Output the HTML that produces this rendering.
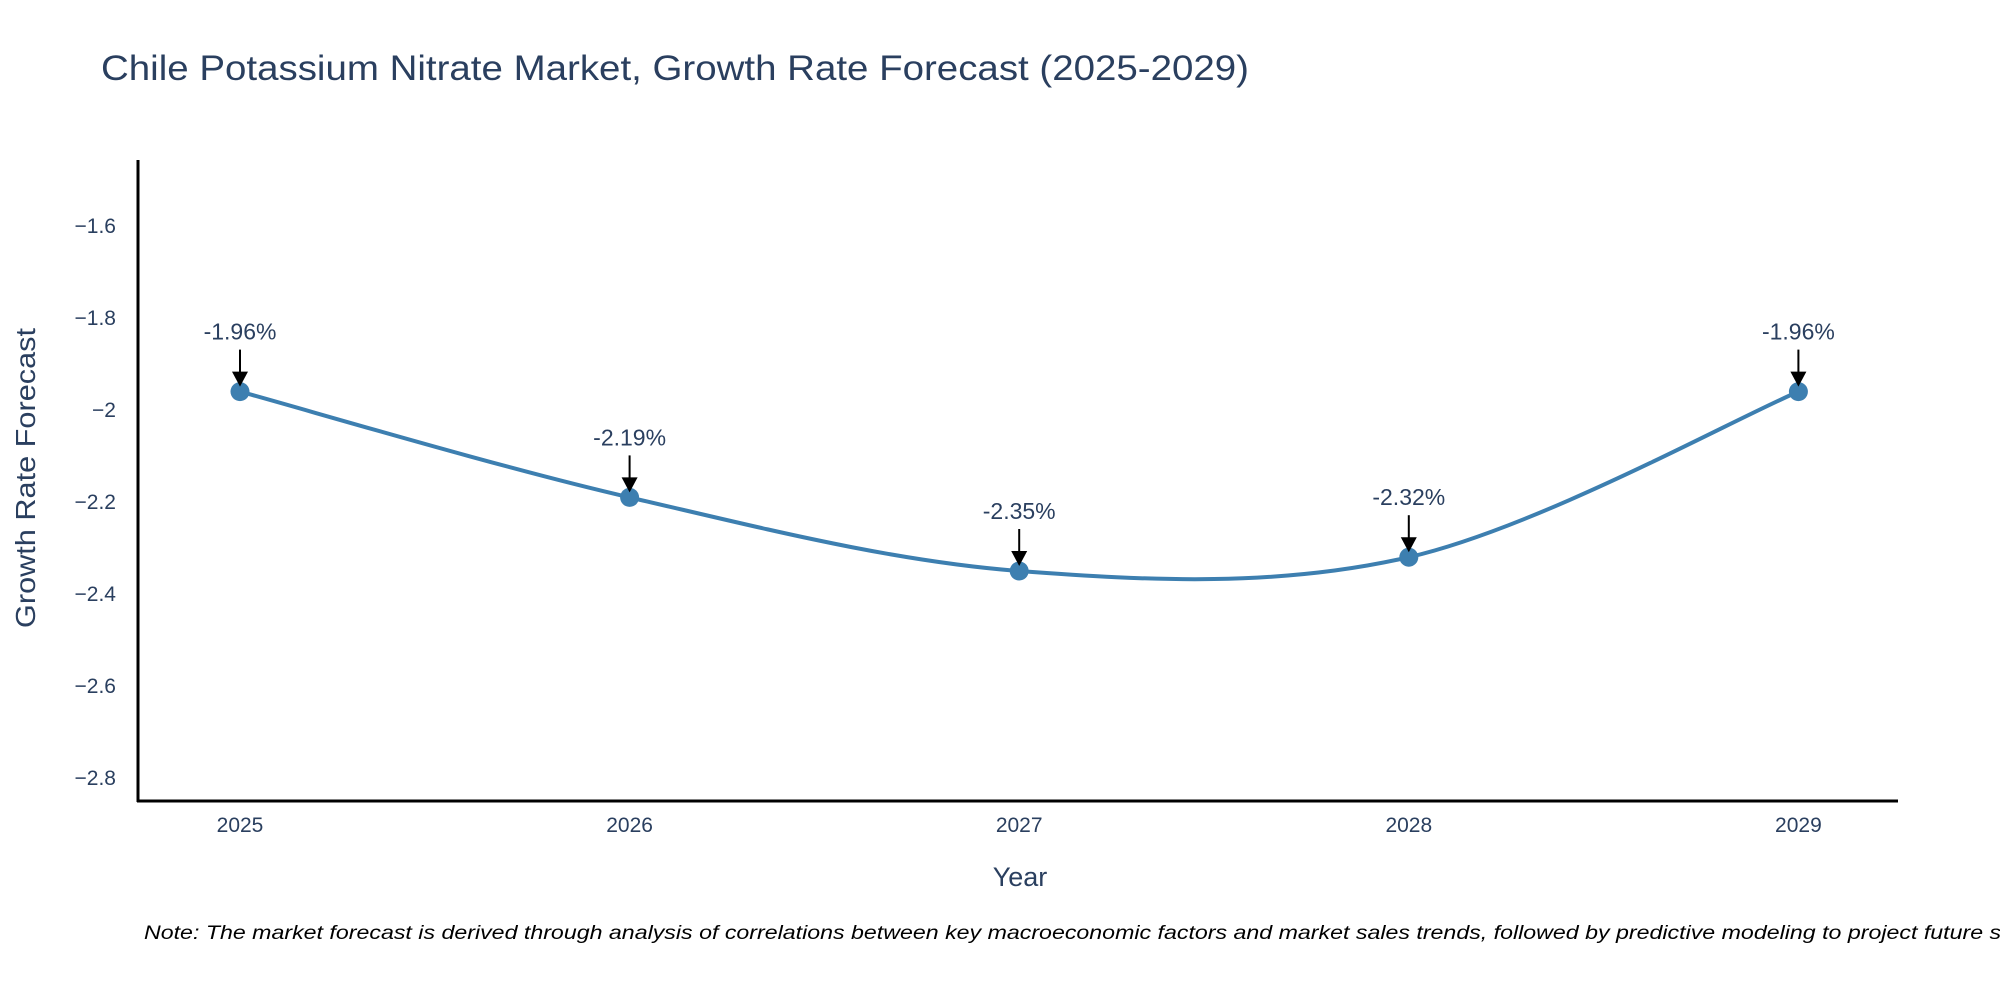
<!DOCTYPE html>
<html><head><meta charset="utf-8"><style>
html,body{margin:0;padding:0;background:#fff;}
svg{display:block;font-family:"Liberation Sans","DejaVu Sans",sans-serif;}
</style></head><body>
<svg id="chart" width="2000" height="1000" viewBox="0 0 2000 1000">
<text x="101" y="80" font-size="35" fill="#2a3f5f" textLength="1148" lengthAdjust="spacingAndGlyphs">Chile Potassium Nitrate Market, Growth Rate Forecast (2025-2029)</text>
<g id="yticks"></g>
<g id="xticks"></g>
<line x1="138" y1="160" x2="138" y2="802" stroke="#000" stroke-width="3"/>
<line x1="137" y1="801" x2="1898" y2="801" stroke="#000" stroke-width="3"/>
<text transform="translate(35,478) rotate(-90)" text-anchor="middle" font-size="28" fill="#2a3f5f" textLength="300" lengthAdjust="spacingAndGlyphs">Growth Rate Forecast</text>
<text x="1020" y="886" text-anchor="middle" font-size="27" fill="#2a3f5f">Year</text>
<g id="series"></g>
<g id="annots"></g>
<text x="144" y="939" font-size="19" font-style="italic" fill="#000" textLength="1870" lengthAdjust="spacingAndGlyphs">Note: The market forecast is derived through analysis of correlations between key macroeconomic factors and market sales trends, followed by predictive modeling to project future sa</text>
</svg>
<script>
const years = [2025, 2026, 2027, 2028, 2029];
const growth = [-1.96, -2.19, -2.35, -2.32, -1.96];
const labels = ["-1.96%", "-2.19%", "-2.35%", "-2.32%", "-1.96%"];
const yTicks = [-1.6, -1.8, -2, -2.2, -2.4, -2.6, -2.8];

const NS = "http://www.w3.org/2000/svg";
const X0 = 240, XSTEP = 389.6;
function xs(v){ return X0 + (v - years[0]) * XSTEP; }
function ys(v){ return 226 + (-1.6 - v) * 460; }
function mk(tag, attrs, parent){ const e=document.createElementNS(NS,tag); for(const k in attrs) e.setAttribute(k, attrs[k]); parent.appendChild(e); return e; }

const yg = document.getElementById('yticks');
yTicks.forEach(t => {
  const e = mk('text', {x:116, y:ys(t)+7, 'text-anchor':'end', 'font-size':21, fill:'#2a3f5f'}, yg);
  
  
  e.textContent = (t < 0 ? '\u2212' : '') + String(Math.abs(t));
});
const xg = document.getElementById('xticks');
years.forEach(y => {
  const e = mk('text', {x:xs(y), y:832, 'text-anchor':'middle', 'font-size':21, fill:'#2a3f5f'}, xg);
  
  
  e.textContent = String(y);
});

const pts = years.map((y,i)=>[xs(y), ys(growth[i])]);
let d = 'M' + pts[0][0] + ',' + pts[0][1];
const s = 1/6 * 1.0;
for (let i=0;i<pts.length-1;i++){
  const p0 = pts[Math.max(0,i-1)], p1 = pts[i], p2 = pts[i+1], p3 = pts[Math.min(pts.length-1,i+2)];
  const c1 = [p1[0] + (p2[0]-p0[0])*s, p1[1] + (p2[1]-p0[1])*s];
  const c2 = [p2[0] - (p3[0]-p1[0])*s, p2[1] - (p3[1]-p1[1])*s];
  d += ' C' + c1.join(',') + ' ' + c2.join(',') + ' ' + p2.join(',');
}
const sg = document.getElementById('series');
const line = mk('path', {d:d, fill:'none', stroke:'#3d7fb0', 'stroke-width':4}, sg);


pts.forEach(p => {
  const c = mk('circle', {cx:p[0], cy:p[1], r:9.5, fill:'#3d7fb0'}, sg);
  
  
});

const ag = document.getElementById('annots');
pts.forEach((p,i) => {
  const l = mk('line', {x1:p[0], y1:p[1]-42, x2:p[0], y2:p[1]-18, stroke:'#000', 'stroke-width':2}, ag);
  
  
  const h = mk('polygon', {points:(p[0]-8)+','+(p[1]-20)+' '+(p[0]+8)+','+(p[1]-20)+' '+p[0]+','+(p[1]-5), fill:'#000'}, ag);
  
  
  const t = mk('text', {x:p[0], y:p[1]-52, 'text-anchor':'middle', 'font-size':23, fill:'#2a3f5f'}, ag);
  
  
  t.textContent = labels[i];
});
</script>
</body></html>
